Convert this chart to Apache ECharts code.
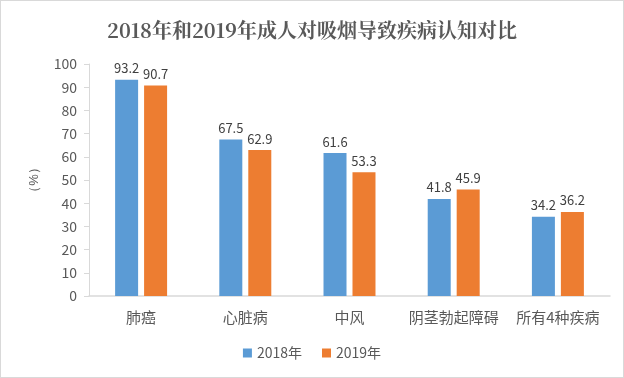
<!DOCTYPE html>
<html><head><meta charset="utf-8">
<script src="https://cdn.jsdelivr.net/npm/echarts@6/dist/echarts.min.js"></script>
<style>html,body{margin:0;padding:0;background:#fff}#c{width:622px;height:376px;border:1px solid #d9d9d9}</style>
</head><body><div id="c"></div>
<script>
const categories = ['肺癌','心脏病','中风','阴茎勃起障碍','所有4种疾病'];
const s2018 = [93.2, 67.5, 61.6, 41.8, 34.2];
const s2019 = [90.7, 62.9, 53.3, 45.9, 36.2];
const yTicks = [0,10,20,30,40,50,60,70,80,90,100];
const chart = echarts.init(document.getElementById('c'));
const lbl = {show:true, position:'top', color:'#404040', fontSize:13, fontFamily:'Noto Sans CJK SC', distance:5};
chart.setOption({
  animation:false,
  title:{text:'2018年和2019年成人对吸烟导致疾病认知对比', left:'center', top:14,
    textStyle:{fontFamily:'Noto Serif CJK SC, serif', fontSize:20, fontWeight:'bold', color:'#595959'}},
  grid:{left:88, right:13, top:63, bottom:81},
  legend:{bottom:12, left:'center', itemWidth:9, itemHeight:9, itemGap:20, icon:'rect',
    textStyle:{color:'#595959', fontSize:14, fontFamily:'Noto Sans CJK SC'}},
  xAxis:{type:'category', data:categories,
    axisLine:{lineStyle:{color:'#d9d9d9', width:1.5}}, axisTick:{show:false},
    axisLabel:{color:'#595959', fontSize:15, margin:14, interval:0, fontFamily:'Noto Sans CJK SC'}},
  yAxis:{type:'value', min:0, max:100, interval:10, name:'（%）', nameLocation:'middle', nameGap:48,
    nameRotate:90, nameTextStyle:{color:'#595959', fontSize:13},
    axisLine:{show:true, lineStyle:{color:'#d9d9d9'}},
    axisTick:{show:true, inside:false, length:5, lineStyle:{color:'#d9d9d9'}},
    splitLine:{show:false},
    axisLabel:{color:'#595959', fontSize:14, margin:12, fontFamily:'Noto Sans CJK SC',
      formatter:v=>yTicks.includes(v)?String(v):''}},
  series:[
    {name:'2018年', type:'bar', data:s2018, itemStyle:{color:'#5b9bd5'}, barWidth:23, barGap:'26%', label:lbl},
    {name:'2019年', type:'bar', data:s2019, itemStyle:{color:'#ed7d31'}, barWidth:23, label:lbl}
  ]
});
</script></body></html>
